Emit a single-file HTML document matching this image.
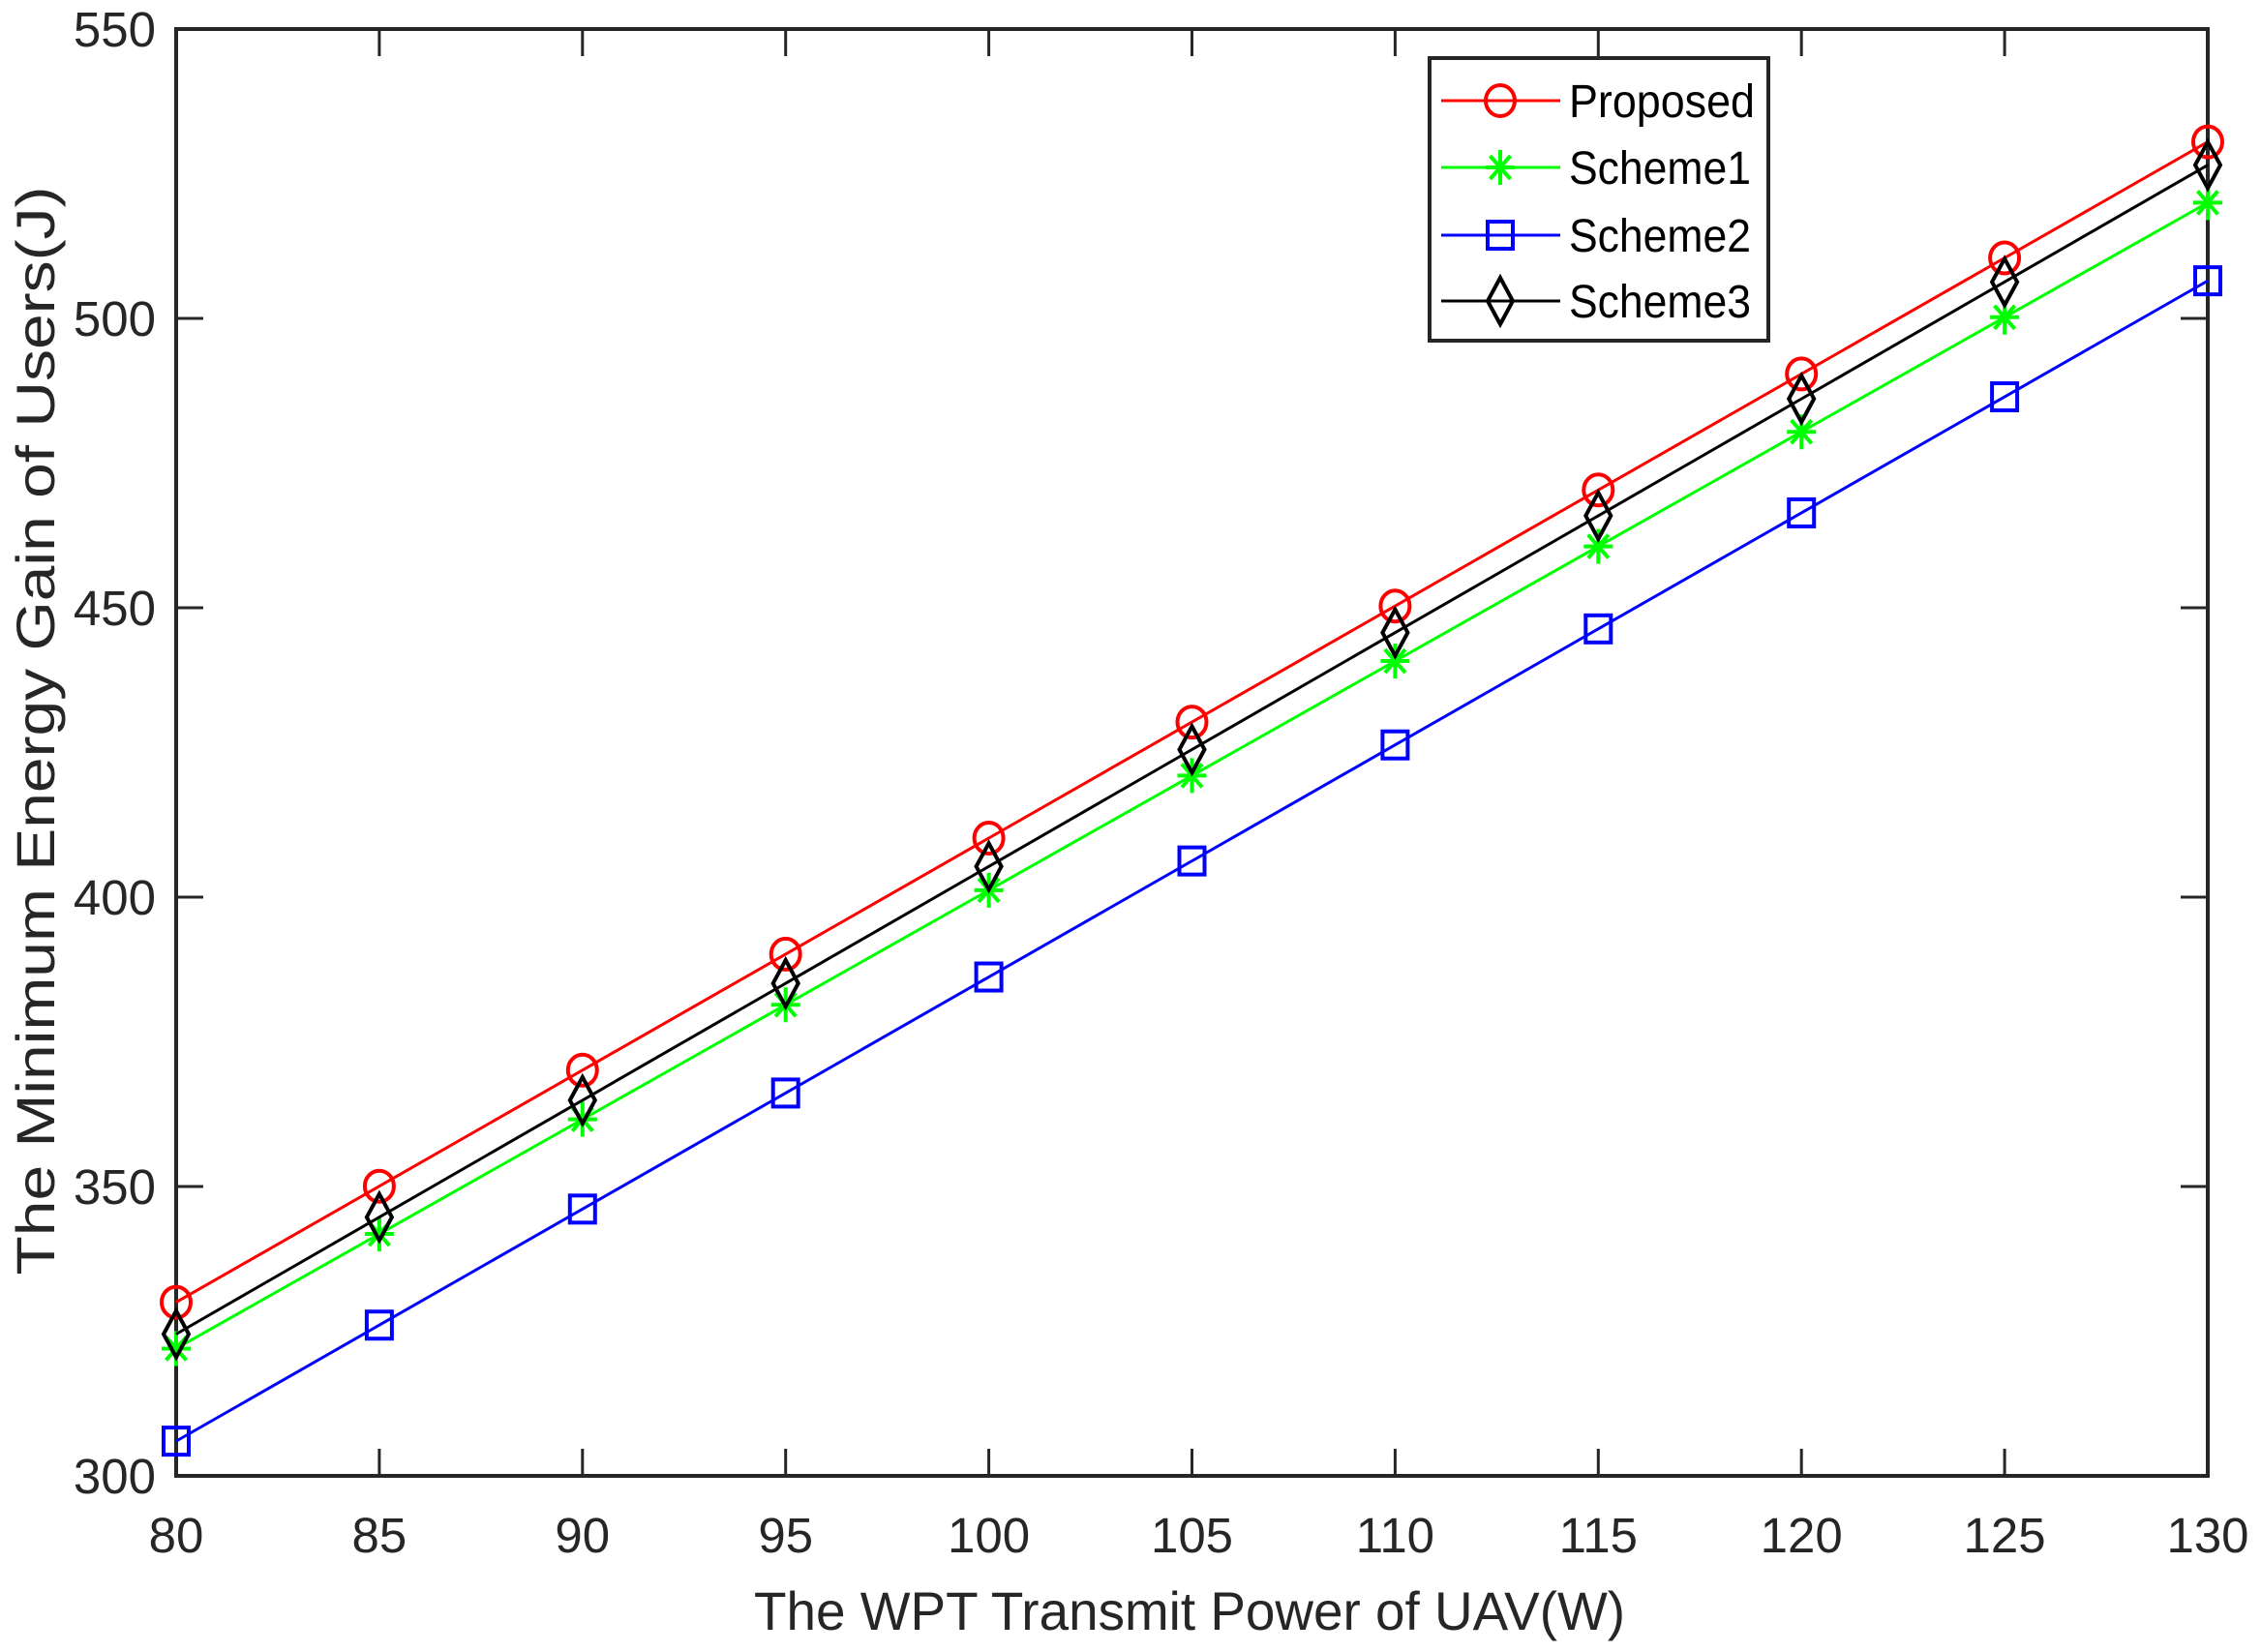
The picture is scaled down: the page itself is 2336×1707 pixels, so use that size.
<!DOCTYPE html>
<html><head><meta charset="utf-8"><style>html,body{margin:0;padding:0;background:#fff}svg{display:block}</style></head>
<body>
<svg width="2336" height="1707" viewBox="0 0 2336 1707" xmlns="http://www.w3.org/2000/svg" font-family="Liberation Sans, Arial, sans-serif" fill="#262626">
<rect width="2336" height="1707" fill="#fff"/>
<g id="plot"></g>
<script>
(function(){
const ns="http://www.w3.org/2000/svg";
const g=document.getElementById('plot');
const L=182,R=2281,T=30,B=1525;
const X=v=>L+(v-80)/50*(R-L);
const Y=v=>B-(v-300)/250*(B-T);
function el(n,a,t){const e=document.createElementNS(ns,n);for(const k in a)e.setAttribute(k,a[k]);if(t!==undefined)e.textContent=t;g.appendChild(e);return e;}
el('rect',{x:L,y:T,width:R-L,height:B-T,fill:'none',stroke:'#262626','stroke-width':4});
for(let v=80;v<=130;v+=5){const x=X(v);
 el('line',{x1:x,y1:B,x2:x,y2:B-28,stroke:'#262626','stroke-width':3});
 el('line',{x1:x,y1:T,x2:x,y2:T+28,stroke:'#262626','stroke-width':3});
 el('text',{x:x,y:1604,'font-size':51,'text-anchor':'middle'},String(v));}
for(let v=300;v<=550;v+=50){const y=Y(v);
 el('line',{x1:L,y1:y,x2:L+28,y2:y,stroke:'#262626','stroke-width':3});
 el('line',{x1:R,y1:y,x2:R-28,y2:y,stroke:'#262626','stroke-width':3});
 el('text',{x:161,y:y+18,'font-size':51,'text-anchor':'end'},String(v));}
el('text',{x:1229,y:1684,'font-size':56,'text-anchor':'middle',textLength:900,lengthAdjust:'spacingAndGlyphs'},'The WPT Transmit Power of UAV(W)');
el('text',{x:0,y:0,'font-size':56,'text-anchor':'middle',textLength:1125,lengthAdjust:'spacingAndGlyphs',transform:'translate(56,755) rotate(-90)'},'The Minimum Energy Gain of Users(J)');
const series=[
 {c:'#ff0000',m:'o',f:i=>330+20.05*i},
 {c:'#00ff00',m:'*',f:i=>322+19.8*i},
 {c:'#0000ff',m:'s',f:i=>306+20.05*i},
 {c:'#000000',m:'d',f:i=>324.5+20.2*i}];
function marker(m,x,y,c){
 const s={fill:'none',stroke:c,'stroke-width':4};
 if(m==='o')el('ellipse',Object.assign({cx:x,cy:y,rx:15,ry:16},s));
 else if(m==='s')el('rect',Object.assign({x:x-13,y:y-14,width:26,height:28},s));
 else if(m==='d')el('polygon',Object.assign({points:`${x},${y-24} ${x+13},${y} ${x},${y+24} ${x-13},${y}`},s));
 else{const r=15;
  el('path',Object.assign({d:`M${x-r},${y}H${x+r}M${x},${y-r*1.2}V${y+r*1.2}M${x-r*0.7},${y-r*0.8}L${x+r*0.7},${y+r*0.8}M${x-r*0.7},${y+r*0.8}L${x+r*0.7},${y-r*0.8}`},s));}
}
series.forEach(s=>{
 let pts=[];for(let i=0;i<=10;i++)pts.push(X(80+5*i)+','+Y(s.f(i)));
 el('polyline',{points:pts.join(' '),fill:'none',stroke:s.c,'stroke-width':3});
 for(let i=0;i<=10;i++)marker(s.m,X(80+5*i),Y(s.f(i)),s.c);
});
el('rect',{x:1477,y:60,width:350,height:292,fill:'#fff',stroke:'#262626','stroke-width':4});
const names=['Proposed','Scheme1','Scheme2','Scheme3'];const ly=[104,173,243,311];
names.forEach((n,i)=>{const s=series[i];
 el('line',{x1:1489,y1:ly[i],x2:1612,y2:ly[i],stroke:s.c,'stroke-width':3});
 marker(s.m,1550,ly[i],s.c);
 el('text',{x:1621,y:ly[i]+17,'font-size':48,fill:'#000',textLength:n==='Proposed'?192:188,lengthAdjust:'spacingAndGlyphs'},n);
});
})();
</script>
</svg>
</body></html>
